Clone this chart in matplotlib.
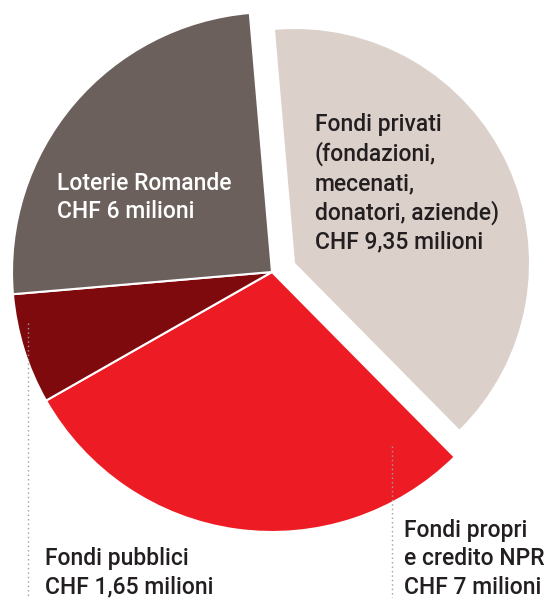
import matplotlib.pyplot as plt

# financing sources (CHF millions)
labels = ["Fondi privati\n(fondazioni,\nmecenati,\ndonatori, aziende)\nCHF 9,35 milioni",
          "Fondi propri\ne credito NPR\nCHF 7 milioni",
          "Fondi pubblici\nCHF 1,65 milioni",
          "Loterie Romande\nCHF 6 milioni"]
values = [9.35, 7, 1.65, 6]
colors = ["#dcd0cb", "#ed1c24", "#7f0a0e", "#6b605b"]

W, H = 550, 598
fig = plt.figure(figsize=(W / 100, H / 100), dpi=100)
ax = fig.add_axes([0, 0, 1, 1])

cx, cy, R = 272, H - 272, 260
wedges, _ = ax.pie(values, colors=colors, startangle=94.9, counterclock=False,
                   center=(cx, cy), radius=R, frame=True,
                   wedgeprops=dict(edgecolor="white", linewidth=1.5))
ax.set_xlim(0, W)
ax.set_ylim(0, H)
ax.set_aspect("equal")
ax.axis("off")

# the private-funds slice is pulled out and a bit smaller
wedges[0].set_center((cx + 23, cy + 9))
wedges[0].set_radius(234)
wedges[0].set_linewidth(0)

font = dict(family="Roboto", fontweight="medium", fontsize=16.5, color="#231f20",
            linespacing=1.3, va="top", ha="left")
ax.text(315, H - 113, labels[0], **font)
ax.text(404, H - 519, labels[1], **font)
ax.text(45, H - 547, labels[2], **font)
ax.text(57, H - 172, labels[3], **{**font, "color": "white"})

# dotted leader lines
dots = dict(color="#9d9fa2", lw=1.0, linestyle=(0, (1, 2.2)))
ax.plot([28, 28], [H - 323, 0], **dots)
ax.plot([392, 392], [H - 446, 0], **dots)

fig.savefig("out.png", dpi=100)
